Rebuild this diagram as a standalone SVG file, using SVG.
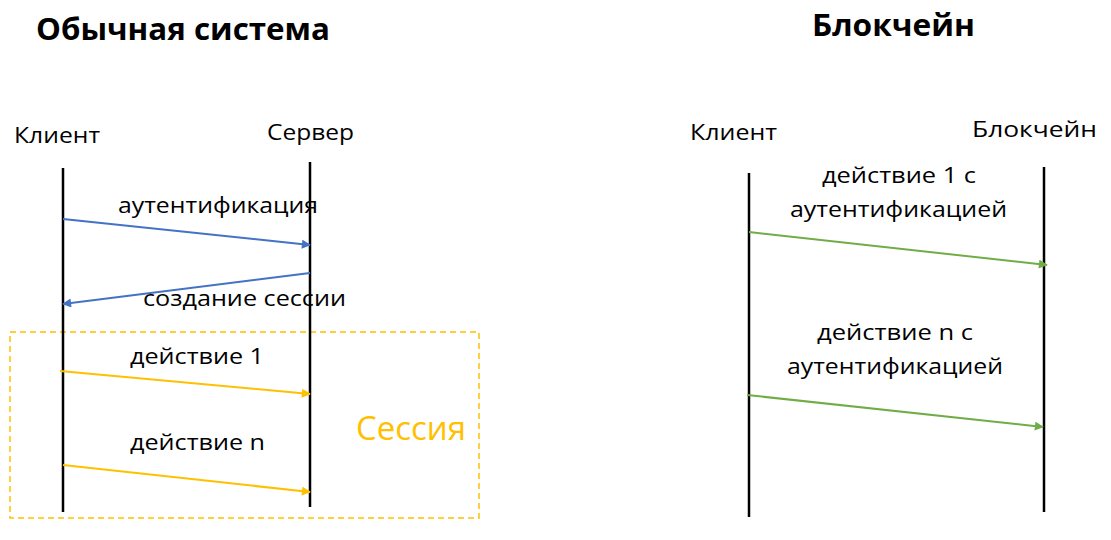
<svg xmlns="http://www.w3.org/2000/svg" width="1111" height="540" viewBox="0 0 1111 540">
<defs>
<style>
text{font-family:"Open Sans","Noto Sans","Liberation Sans",sans-serif;fill:#000}
.t{font-size:30px;font-weight:bold}
.n{font-size:22px}
.l{font-size:22px}
.life{stroke:#000;stroke-width:2.5}
.blue{stroke:#4472C4;stroke-width:2;fill:none}
.yel{stroke:#FFC000;stroke-width:2;fill:none}
.grn{stroke:#70AD47;stroke-width:2;fill:none}
</style>
<marker id="ab" viewBox="0 0 10 10" refX="9" refY="5" markerWidth="11" markerHeight="9" orient="auto" markerUnits="userSpaceOnUse"><path d="M0,0L10,5L0,10z" fill="#4472C4"/></marker>
<marker id="ay" viewBox="0 0 10 10" refX="9" refY="5" markerWidth="11" markerHeight="9" orient="auto" markerUnits="userSpaceOnUse"><path d="M0,0L10,5L0,10z" fill="#FFC000"/></marker>
<marker id="ag" viewBox="0 0 10 10" refX="9" refY="5" markerWidth="11" markerHeight="9" orient="auto" markerUnits="userSpaceOnUse"><path d="M0,0L10,5L0,10z" fill="#70AD47"/></marker>
</defs>
<rect width="1111" height="540" fill="#fff"/>
<text class="t" x="36" y="40" textLength="294" lengthAdjust="spacingAndGlyphs">Обычная система</text>
<text class="t" x="812" y="36" textLength="163" lengthAdjust="spacingAndGlyphs">Блокчейн</text>
<rect x="10" y="332" width="469" height="186" fill="none" stroke="#FFC000" stroke-width="1.5" stroke-dasharray="6,4"/>
<g id="client-left"><text class="n" x="14" y="143" textLength="86" lengthAdjust="spacingAndGlyphs">Клиент</text><line class="life" x1="63" y1="168" x2="63" y2="512"/></g>
<g id="server"><text class="n" x="267" y="140" textLength="87" lengthAdjust="spacingAndGlyphs">Сервер</text><line class="life" x1="310" y1="162" x2="310" y2="507"/></g>
<g id="client-right"><text class="n" x="690" y="140" textLength="87" lengthAdjust="spacingAndGlyphs">Клиент</text><line class="life" x1="749" y1="173" x2="749" y2="517"/></g>
<g id="blockchain"><text class="n" x="972" y="137" textLength="125" lengthAdjust="spacingAndGlyphs">Блокчейн</text><line class="life" x1="1044" y1="167" x2="1044" y2="512"/></g>
<g id="session"><text x="356" y="440" font-size="33" style="fill:#FFC000" textLength="110" lengthAdjust="spacingAndGlyphs">Сессия</text></g>
<g id="connectors">
<line class="blue" x1="63" y1="219" x2="310" y2="245" marker-end="url(#ab)"/>
<text class="l" x="118" y="213" textLength="200" lengthAdjust="spacingAndGlyphs">аутентификация</text>
<line class="blue" x1="310" y1="273" x2="63" y2="304" marker-end="url(#ab)"/>
<text class="l" x="143" y="306" textLength="203" lengthAdjust="spacingAndGlyphs">создание сессии</text>
<line class="yel" x1="60" y1="371" x2="310" y2="394" marker-end="url(#ay)"/>
<text class="l" x="130" y="364" textLength="134" lengthAdjust="spacingAndGlyphs">действие 1</text>
<line class="yel" x1="63" y1="465" x2="310" y2="492" marker-end="url(#ay)"/>
<text class="l" x="130" y="450" textLength="135" lengthAdjust="spacingAndGlyphs">действие n</text>
<line class="grn" x1="749" y1="232" x2="1047" y2="265" marker-end="url(#ag)"/>
<text class="l" x="822" y="183" textLength="154" lengthAdjust="spacingAndGlyphs">действие 1 с</text>
<text class="l" x="790" y="217" textLength="217" lengthAdjust="spacingAndGlyphs">аутентификацией</text>
<line class="grn" x1="747" y1="395" x2="1043" y2="427" marker-end="url(#ag)"/>
<text class="l" x="817" y="340" textLength="156" lengthAdjust="spacingAndGlyphs">действие n с</text>
<text class="l" x="787" y="374" textLength="216" lengthAdjust="spacingAndGlyphs">аутентификацией</text>
</g>
</svg>
